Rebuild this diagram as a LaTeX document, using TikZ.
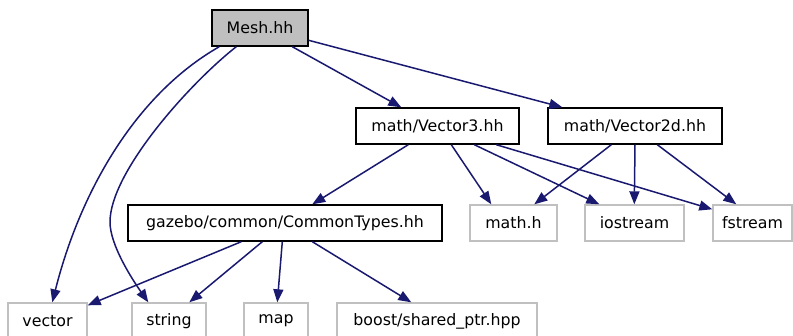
\documentclass[tikz,border=0pt]{standalone}
\usepackage{fontspec}
\setmainfont{DejaVu Sans}
\usetikzlibrary{arrows.meta,calc}
\definecolor{edgeblue}{HTML}{191970}
\definecolor{boxgray}{HTML}{BFBFBF}
\definecolor{sysgray}{HTML}{C0C0C0}
\begin{document}
\begin{tikzpicture}[x=1pt,y=-1pt,
  every node/.style={font=\fontsize{15.8}{18}\selectfont, inner sep=0pt, minimum height=36pt, anchor=center},
  filebox/.style={draw=black, line width=1.4pt, fill=white},
  mainbox/.style={draw=black, line width=1.4pt, fill=boxgray},
  sysbox/.style={draw=sysgray, line width=1.4pt, fill=white},
  dep/.style={draw=edgeblue, line width=1.5pt, -{Triangle[length=13pt,width=10pt]}}]
\useasboundingbox (0,0) rectangle (793,335);
% nodes
\node[mainbox, minimum width=96pt] (mesh) at (260,28) {Mesh.hh};
\node[filebox, minimum width=163pt] (v3) at (437.5,126) {math/Vector3.hh};
\node[filebox, minimum width=174pt] (v2d) at (635,126) {math/Vector2d.hh};
\node[filebox, minimum width=314pt] (ct) at (285,223) {gazebo/common/CommonTypes.hh};
\node[sysbox, minimum width=87pt] (mathh) at (513.5,223) {math.h};
\node[sysbox, minimum width=99pt] (ios) at (634.5,223) {iostream};
\node[sysbox, minimum width=79pt] (fs) at (752.5,223) {fstream};
\node[sysbox, minimum width=79pt] (vec) at (47.5,321) {vector};
\node[sysbox, minimum width=74pt] (str) at (169,321) {string};
\node[sysbox, minimum width=64pt] (map) at (276,321) {map};
\node[sysbox, minimum width=200pt] (boost) at (437,321) {boost/shared\_ptr.hpp};
% edges from Mesh.hh
\draw[dep] ([xshift=8pt]mesh.south west) .. controls (133,96) and (79,196) .. ([xshift=45pt]vec.north west);
\draw[dep] ([xshift=25pt]mesh.south west) .. controls (190,83) and (110,172) .. (110,222)
  .. controls (110,245) and (132,279) .. ([xshift=17pt]str.north west);
\draw[dep] ([xshift=81pt]mesh.south west) -- ([xshift=46pt]v3.north west);
\draw[dep] ([yshift=-31pt]mesh.north east) -- ([xshift=15pt]v2d.north west);
% edges from Vector3
\draw[dep] ([xshift=53pt]v3.south west) -- ([xshift=185pt]ct.north west);
\draw[dep] ([xshift=96pt]v3.south west) -- ([xshift=22pt]mathh.north west);
\draw[dep] ([xshift=119pt]v3.south west) -- ([xshift=15pt]ios.north west);
\draw[dep] ([xshift=141pt]v3.south west) -- ([yshift=-5pt]fs.north west);
% edges from Vector2d
\draw[dep] ([xshift=64pt]v2d.south west) -- ([xshift=65pt]mathh.north west);
\draw[dep] (v2d.south) -- ([xshift=50pt]ios.north west);
\draw[dep] ([xshift=110pt]v2d.south west) -- ([xshift=24pt]fs.north west);
% edges from CommonTypes
\draw[dep] ([xshift=114pt]ct.south west) -- ([yshift=-3pt]vec.north east);
\draw[dep] ([xshift=135pt]ct.south west) -- ([xshift=58pt]str.north west);
\draw[dep] ([xshift=155pt]ct.south west) -- ([xshift=34pt]map.north west);
\draw[dep] ([xshift=185pt]ct.south west) -- ([xshift=75pt]boost.north west);
\end{tikzpicture}
\end{document}
